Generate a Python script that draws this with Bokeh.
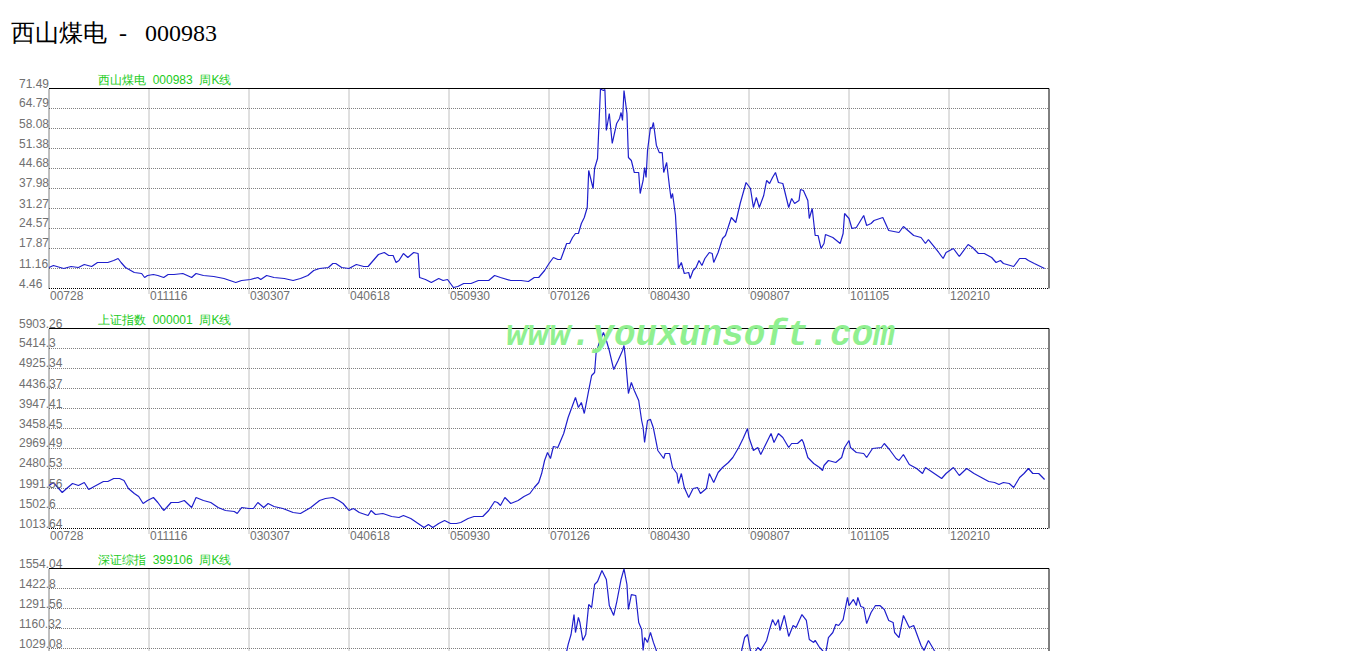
from bokeh.plotting import figure
from bokeh.models import ColumnDataSource, LabelSet, Label, Range1d
from bokeh.layouts import column
from bokeh.embed import file_html
from bokeh.resources import INLINE
from bokeh.core.properties import value

NB = "\u00a0"  # keeps the wide gaps of the original captions

# ---------------- data ----------------
page_title = "西山煤电 " + NB + "- " + NB + NB + "000983"
watermark = "www.youxunsoft.com"

x_ticks = [0, 68, 136, 204, 272, 340, 408, 476, 544, 612, 680]
x_tick_labels = ["00728", "011116", "030307", "040618", "050930",
                 "070126", "080430", "090807", "101105", "120210"]

# chart 1: 西山煤电 000983 weekly close
title1 = "西山煤电 " + NB + "000983 " + NB + "周K线"
y_labels1 = ["4.46", "11.16", "17.87", "24.57", "31.27", "37.98",
             "44.68", "51.38", "58.08", "64.79", "71.49"]
weeks1 = [0, 3, 10, 15, 20, 24, 29, 33, 40, 44, 47, 49, 52, 58, 63, 65, 67, 71, 74, 78,
          81, 85, 91, 97, 100, 105, 112, 119, 127, 131, 137, 142, 144, 148, 153, 160, 166, 171, 176, 180,
          184, 190, 193, 195, 199, 204, 209, 214, 217, 224, 228, 231, 234, 236, 238, 241, 244, 248, 251, 252,
          256, 260, 265, 268, 271, 275, 278, 282, 287, 292, 299, 303, 307, 314, 321, 326, 330, 333, 337, 340,
          343, 346, 348, 352, 354, 356, 358, 360, 362, 364, 365, 366, 367, 370, 371, 373, 375, 377, 378, 379,
          381, 383, 386, 388, 389, 390, 391, 393, 394, 396, 398, 401, 402, 404, 405, 406, 407, 409, 410, 411,
          413, 415, 417, 418, 420, 422, 423, 424, 426, 428, 430, 432, 435, 436, 438, 440, 442, 444, 446, 449,
          451, 452, 455, 458, 460, 464, 467, 470, 474, 477, 479, 481, 483, 486, 488, 490, 492, 494, 496, 499,
          503, 505, 507, 510, 511, 513, 516, 517, 519, 521, 523, 525, 527, 528, 533, 538, 540, 541, 544, 546,
          549, 554, 556, 559, 561, 567, 571, 578, 581, 588, 593, 596, 598, 605, 608, 610, 615, 619, 625, 628,
          632, 636, 641, 644, 647, 649, 656, 660, 664, 666, 670, 677]
close1 = [11.50, 12.17, 11.16, 11.83, 11.50, 12.50, 11.83, 13.17, 13.17, 13.84, 14.51, 13.17, 11.50, 9.82, 9.49, 8.15, 8.82, 9.15, 8.82, 8.15,
          9.15, 9.15, 9.49, 8.15, 9.49, 8.82, 8.48, 7.81, 6.47, 7.14, 7.48, 8.15, 7.48, 8.82, 8.15, 7.81, 7.14, 7.81, 8.82, 10.49,
          11.16, 11.50, 12.84, 12.84, 11.50, 11.16, 12.50, 11.83, 11.83, 15.85, 16.53, 15.52, 15.52, 13.17, 13.84, 16.19, 14.85, 16.53, 16.19, 8.15,
          7.48, 6.47, 7.81, 7.14, 7.48, 4.80, 5.13, 6.14, 6.14, 7.14, 7.14, 8.82, 8.15, 7.14, 7.14, 6.81, 8.15, 8.15, 10.49, 12.84,
          14.85, 14.18, 14.18, 19.54, 19.54, 21.55, 22.89, 22.89, 26.24, 28.26, 29.93, 31.61, 44.01, 37.98, 44.68, 48.03, 71.30, 70.82, 71.15, 57.41,
          63.11, 53.06, 59.76, 61.44, 63.45, 60.77, 70.82, 63.11, 48.36, 47.36, 43.34, 43.34, 36.30, 40.66, 45.02, 41.66, 50.71, 58.42, 58.08, 60.09,
          52.50, 50.00, 50.04, 43.34, 46.69, 38.31, 34.62, 36.30, 29.00, 11.16, 13.17, 9.49, 9.82, 7.81, 10.49, 11.50, 13.84, 12.17, 14.51, 16.53,
          16.19, 13.17, 16.53, 21.22, 22.22, 28.26, 26.58, 32.95, 39.99, 37.98, 31.61, 34.96, 31.61, 35.63, 40.66, 39.65, 41.66, 43.34, 39.99, 39.65,
          31.61, 34.62, 32.95, 33.95, 37.64, 37.31, 33.95, 27.92, 31.27, 22.22, 22.22, 17.87, 19.54, 22.56, 21.55, 19.54, 22.89, 29.60, 27.92, 24.57,
          24.90, 28.93, 25.57, 26.24, 27.25, 28.26, 23.90, 23.23, 25.24, 22.22, 21.55, 19.54, 20.88, 16.53, 14.51, 16.53, 17.87, 15.18, 19.21, 18.20,
          16.19, 16.19, 14.85, 13.17, 13.84, 12.84, 11.83, 14.51, 14.51, 13.84, 12.84, 11.16]

# chart 2: 上证指数 000001 weekly close
title2 = "上证指数 " + NB + "000001 " + NB + "周K线"
y_labels2 = ["1013.64", "1502.6", "1991.56", "2480.53", "2969.49", "3458.45",
             "3947.41", "4436.37", "4925.34", "5414.3", "5903.26"]
weeks2 = [0, 3, 6, 9, 12, 16, 20, 24, 27, 32, 37, 40, 44, 48, 51, 54, 58, 61, 64, 67,
          71, 74, 78, 80, 83, 88, 92, 97, 100, 105, 110, 115, 120, 126, 128, 131, 136, 139, 142, 146,
          149, 153, 159, 166, 171, 178, 184, 188, 193, 197, 200, 204, 207, 211, 217, 219, 222, 227, 233, 238,
          241, 246, 250, 255, 258, 261, 265, 269, 273, 277, 280, 285, 289, 295, 299, 303, 305, 307, 310, 314,
          319, 323, 327, 330, 333, 335, 337, 339, 341, 343, 346, 350, 353, 356, 358, 360, 362, 364, 367, 369,
          371, 372, 374, 377, 379, 381, 384, 387, 390, 391, 392, 394, 396, 398, 401, 403, 404, 405, 407, 409,
          411, 414, 418, 419, 422, 424, 427, 428, 430, 432, 435, 438, 441, 443, 447, 449, 452, 455, 458, 462,
          465, 469, 472, 475, 476, 479, 482, 484, 488, 491, 493, 496, 499, 503, 505, 509, 512, 513, 516, 520,
          524, 526, 527, 530, 535, 539, 541, 544, 545, 549, 554, 556, 560, 566, 568, 572, 576, 578, 581, 585,
          590, 594, 596, 601, 607, 610, 615, 619, 624, 629, 634, 639, 643, 646, 649, 653, 656, 660, 663, 666,
          669, 673, 677]
close2 = [2065, 2138, 2016, 1894, 1992, 2114, 2065, 2138, 1967, 2065, 2163, 2163, 2236, 2236, 2187, 1992, 1869, 1796, 1625, 1698,
          1772, 1649, 1454, 1527, 1649, 1649, 1698, 1527, 1772, 1698, 1649, 1527, 1454, 1429, 1380, 1527, 1503, 1503, 1649, 1527,
          1625, 1552, 1503, 1405, 1380, 1527, 1698, 1747, 1772, 1698, 1625, 1454, 1503, 1405, 1332, 1454, 1356, 1380, 1307, 1283,
          1332, 1258, 1160, 1038, 1111, 1038, 1136, 1209, 1136, 1136, 1160, 1258, 1307, 1307, 1454, 1674, 1649, 1576, 1772, 1625,
          1698, 1796, 1869, 2016, 2138, 2358, 2676, 2872, 2725, 3018, 2994, 3336, 3727, 4021, 4216, 3972, 4094, 3825, 4388, 4754,
          4828, 5292, 5537, 5805, 5610, 5365, 4901, 5121, 5365, 5488, 5170, 4314, 4583, 4388, 4143, 3654, 3483, 3116, 3654, 3680,
          3470, 2921, 2725, 2847, 2847, 2505, 2358, 2114, 2358, 2016, 1772, 1992, 2016, 1869, 1992, 2358, 2138, 2383, 2505, 2627,
          2749, 2994, 3214, 3458, 3238, 2921, 2994, 2823, 3116, 3336, 3116, 3336, 3238, 2994, 3092, 3092, 3190, 3116, 2749, 2603,
          2505, 2432, 2554, 2676, 2627, 2749, 2994, 3165, 2994, 2872, 2847, 2749, 2970, 2994, 3092, 2921, 2725, 2676, 2823, 2578,
          2481, 2358, 2505, 2383, 2236, 2358, 2505, 2309, 2481, 2358, 2261, 2163, 2138, 2089, 2138, 2114, 2016, 2261, 2358, 2481,
          2358, 2358, 2212]

# chart 3: 深证综指 399106 weekly close (only the upper part is on screen)
title3 = "深证综指 " + NB + "399106 " + NB + "周K线"
y_labels3 = ["241.64", "372.88", "504.12", "635.36", "766.6", "897.84",
             "1029.08", "1160.32", "1291.56", "1422.8", "1554.04"]
weeks3 = [0, 10, 20, 30, 40, 48, 55, 62, 70, 80, 90, 100, 110, 120, 130, 140, 150, 160, 170, 180,
          190, 197, 205, 215, 225, 235, 245, 255, 262, 270, 280, 290, 300, 310, 320, 330, 337, 343, 348, 352,
          353, 355, 357, 358, 360, 361, 363, 365, 367, 369, 371, 373, 376, 379, 380, 381, 384, 386, 389, 391,
          393, 394, 396, 399, 401, 403, 404, 405, 407, 409, 411, 413, 415, 420, 424, 430, 435, 440, 447, 453,
          460, 467, 471, 473, 475, 477, 479, 482, 484, 488, 490, 492, 494, 496, 497, 499, 500, 503, 506, 508,
          512, 515, 517, 520, 521, 524, 526, 528, 530, 533, 535, 537, 540, 543, 544, 547, 549, 550, 552, 554,
          556, 559, 562, 565, 568, 571, 574, 575, 578, 581, 585, 588, 591, 593, 595, 598, 600, 602, 607, 613,
          620, 627, 634, 641, 647, 654, 661, 668, 677]
close3 = [640, 620, 650, 640, 660, 665, 600, 540, 560, 480, 510, 520, 480, 450, 430, 460, 440, 400, 390, 430,
          460, 470, 420, 390, 370, 340, 320, 270, 245, 280, 270, 300, 330, 390, 400, 450, 560, 650, 800, 1009,
          1055, 1121, 1252, 1134, 1233, 1200, 1082, 1121, 1318, 1298, 1449, 1469, 1541, 1482, 1397, 1311, 1246, 1331, 1482, 1552,
          1449, 1285, 1383, 1377, 1200, 1154, 1016, 1101, 1069, 1134, 1069, 1016, 900, 800, 700, 620, 480, 500, 540, 620,
          720, 850, 1016, 1101, 1121, 1016, 990, 1036, 1016, 1082, 1154, 1219, 1180, 1219, 1147, 1213, 1246, 1108, 1180, 1167,
          1252, 1213, 1088, 1069, 1082, 1036, 1016, 990, 1101, 1134, 1187, 1180, 1219, 1364, 1311, 1351, 1311, 1364, 1305, 1298,
          1193, 1265, 1311, 1311, 1285, 1213, 1200, 1134, 1101, 1246, 1167, 1180, 1101, 1049, 1016, 1082, 1049, 1016, 950, 900,
          880, 860, 830, 800, 780, 760, 800, 830, 800]

# ---------------- styling / layout ----------------
SANS = "Liberation Sans"
SERIF = "Liberation Serif"
LINE_COLOR = "#1f1fcc"
GRID_COLOR = "#808080"
LABEL_COLOR = "#707070"
TITLE_GREEN = "#22cc22"
FIG_W = 1060
BOX_LEFT = 48.5      # pixel position of the chart box inside each figure
BOX_W = 1000
BOX_H = 200


def chart(weeks, vals, y_labels, title, height, box_top, show_x_labels=True):
    yv = [float(t) for t in y_labels]
    y0, y1 = yv[0], yv[-1]
    xu = (x_ticks[-1] - x_ticks[0]) / BOX_W          # data units per pixel
    yu = (y1 - y0) / BOX_H
    x_range = Range1d(x_ticks[0] - BOX_LEFT * xu, x_ticks[-1] + (FIG_W - BOX_LEFT - BOX_W) * xu)
    y_range = Range1d(y0 - (height - box_top - BOX_H) * yu, y1 + box_top * yu)
    p = figure(width=FIG_W, height=height, x_range=x_range, y_range=y_range,
               x_axis_location=None, y_axis_location=None, title=None,
               output_backend="svg", toolbar_location=None, min_border=0)
    p.outline_line_color = None
    p.grid.visible = False
    p.background_fill_color = "white"
    p.border_fill_color = "white"

    xa, xb = x_ticks[0], x_ticks[-1]
    inner_x = x_ticks[1:-1]
    inner_y = yv[1:-1]
    # grid (dotted); vertical lines poke 5px below the box
    p.segment(x0=inner_x, y0=[y0 - 5 * yu] * len(inner_x), x1=inner_x, y1=[y1] * len(inner_x),
              line_color=GRID_COLOR, line_width=1, line_dash="1 1")
    p.segment(x0=[xa] * len(inner_y), y0=inner_y, x1=[xb] * len(inner_y), y1=inner_y,
              line_color=GRID_COLOR, line_width=1, line_dash="1 1")
    # box: dotted left/bottom, solid top/right
    p.segment(x0=[xa, xa], y0=[y0, y0], x1=[xa, xb], y1=[y1, y0],
              line_color="black", line_width=1, line_dash="1 1")
    p.segment(x0=[xa, xb], y0=[y1, y0], x1=[xb, xb], y1=[y1, y1],
              line_color="black", line_width=1)

    p.line(weeks, vals, line_color=LINE_COLOR, line_width=1.2)

    # y tick labels, left aligned, sitting on their grid line (only those on screen)
    lo = y_range.start + 2 * yu
    ys = [v for v in yv if v >= lo]
    yt = [t for v, t in zip(yv, y_labels) if v >= lo]
    ysrc = ColumnDataSource(dict(x=[xa] * len(ys), y=ys, t=yt))
    p.add_layout(LabelSet(x="x", y="y", text="t", source=ysrc, x_offset=-30, y_offset=1,
                          text_align="left", text_baseline="alphabetic",
                          text_font=value(SANS), text_font_size="12px", text_color=LABEL_COLOR))
    if show_x_labels:
        xsrc = ColumnDataSource(dict(x=x_ticks[:len(x_tick_labels)],
                                     y=[y0] * len(x_tick_labels), t=x_tick_labels))
        p.add_layout(LabelSet(x="x", y="y", text="t", source=xsrc, x_offset=1, y_offset=-11,
                              text_align="left", text_baseline="alphabetic",
                              text_font=value(SANS), text_font_size="12px", text_color=LABEL_COLOR))
    p.add_layout(Label(x=xa, y=y1, x_offset=49, y_offset=9, text=title,
                       text_align="left", text_baseline="alphabetic",
                       text_font=SANS, text_font_size="12px", text_color=TITLE_GREEN))
    return p, xa, y1


p1, xa1, top1 = chart(weeks1, close1, y_labels1, title1, height=308, box_top=88)
p1.add_layout(Label(x=xa1, y=top1, x_offset=-38, y_offset=56, text=page_title,
                    text_align="left", text_baseline="alphabetic",
                    text_font=SERIF, text_font_size="24px", text_color="black"))

p2, xa2, top2 = chart(weeks2, close2, y_labels2, title2, height=240, box_top=20)
p2.add_layout(Label(x=xa2, y=top2, x_offset=457, y_offset=-7, text=watermark,
                    text_align="left", text_baseline="alphabetic",
                    text_font="Liberation Mono", text_font_size="36px",
                    text_font_style="bold italic", text_color="#90f090"))

p3, _, _ = chart(weeks3, close3, y_labels3, title3, height=103, box_top=20, show_x_labels=False)

layout = column(p1, p2, p3, spacing=0)

open("out.html", "w").write(file_html(layout, INLINE))
